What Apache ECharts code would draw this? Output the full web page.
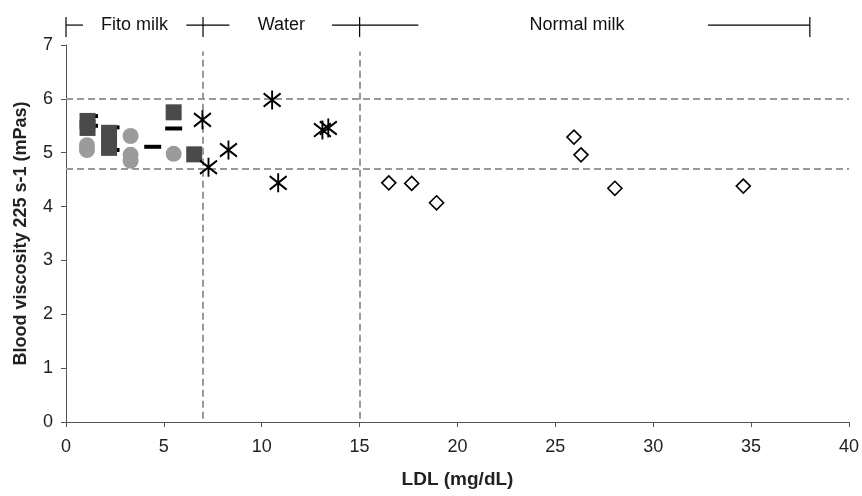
<!DOCTYPE html>
<html>
<head>
<meta charset="utf-8">
<script src="https://cdn.jsdelivr.net/npm/echarts@6/dist/echarts.min.js"></script>
<style>
html,body{margin:0;padding:0;background:#fff;}
#main{width:862px;height:496px;}
</style>
</head>
<body>
<div id="main"></div>
<script>
// Fito milk - dark squares
var squareX = [1.1, 1.1, 2.2, 2.2, 5.5, 6.55];
var squareY = [5.59, 5.46, 5.37, 5.09, 5.75, 4.97];
// Fito milk - grey circles
var circleX = [1.07, 1.07, 3.3, 3.3, 3.3, 5.5];
var circleY = [5.14, 5.05, 5.31, 4.96, 4.85, 4.98];
// Fito milk - dashes
var dashX = [1.2, 1.2, 2.3, 2.3, 4.43, 5.5];
var dashY = [5.68, 5.5, 5.47, 5.05, 5.11, 5.45];
// Water - asterisks
var starX = [6.97, 8.3, 7.28, 10.84, 10.53, 13.1, 13.4];
var starY = [5.61, 5.05, 4.73, 4.44, 5.98, 5.42, 5.46];
// Normal milk - open diamonds
var diamondX = [16.49, 17.66, 18.93, 25.95, 26.31, 28.04, 34.6];
var diamondY = [4.44, 4.43, 4.07, 5.29, 4.96, 4.34, 4.38];

// limits
var xCuts = [7, 15];
var yCuts = [6, 4.7];

// group headers on top
var groupNames = ['Fito milk', 'Water', 'Normal milk'];
var groupCenters = [3.5, 11.0, 26.1];
var bracketTicks = [0, 7, 15, 38];
var bracketSegs = [[0, 0.87], [6.15, 8.35], [13.59, 18.0], [32.8, 38]];

function pts(xs, ys) {
	var out = [];
	for (var i = 0; i < xs.length; i++) out.push([xs[i], ys[i]]);
	return out;
}

var font = 'Liberation Sans, Arial, sans-serif';
var dashStyle = { color: '#999', width: 2, type: [7, 4] };

var markData = [];
xCuts.forEach(function (v) {
	markData.push([{ coord: [v, 0.06] }, { coord: [v, 6.88] }]);
});
yCuts.forEach(function (v) {
	markData.push([{ coord: [0, v] }, { coord: [40, v] }]);
});

var myChart = echarts.init(document.getElementById('main'));
var option = {
	animation: false,
	grid: { left: 66, right: 10, top: 45, bottom: 74 },
	xAxis: {
		type: 'value', min: 0, max: 40, interval: 5,
		name: 'LDL (mg/dL)', nameLocation: 'middle', nameGap: 48,
		nameTextStyle: { fontFamily: font, fontSize: 19, fontWeight: 'bold', color: '#222' },
		axisLine: { lineStyle: { color: '#555', width: 1 } },
		axisTick: { show: true, length: 5, lineStyle: { color: '#555' } },
		axisLabel: { fontFamily: font, fontSize: 18, color: '#222', margin: 16 },
		splitLine: { show: false }
	},
	yAxis: {
		type: 'value', min: 0, max: 7, interval: 1,
		name: 'Blood viscosity 225 s-1 (mPas)', nameLocation: 'middle', nameGap: 36,
		nameTextStyle: { fontFamily: font, fontSize: 18, fontWeight: 'bold', color: '#222' },
		axisLine: { show: true, lineStyle: { color: '#555', width: 1 } },
		axisTick: { show: true, length: 5, lineStyle: { color: '#555' } },
		axisLabel: { fontFamily: font, fontSize: 18, color: '#222', margin: 13 },
		splitLine: { show: false }
	},
	series: [
		{
			name: 'limits', type: 'scatter', data: [], z: 1,
			markLine: {
				silent: true, symbol: 'none', label: { show: false },
				lineStyle: dashStyle, data: markData
			}
		},
		{
			name: 'dash', type: 'scatter', z: 2,
			symbol: 'path://M0,0H10V2H0Z', symbolSize: [17, 4],
			itemStyle: { color: '#000', opacity: 1 },
			data: pts(dashX, dashY)
		},
		{
			name: 'circle', type: 'scatter', z: 3,
			symbol: 'circle', symbolSize: 16,
			itemStyle: { color: '#9b9b9b', opacity: 1 },
			data: pts(circleX, circleY)
		},
		{
			name: 'square', type: 'scatter', z: 4,
			symbol: 'rect', symbolSize: 16,
			itemStyle: { color: '#4a4a4a', opacity: 1 },
			data: pts(squareX, squareY)
		},
		{
			name: 'water', type: 'scatter', z: 5,
			symbol: 'path://M0,-10L0,10M-8,-7L8,7M-8,7L8,-7', symbolSize: [17, 19],
			itemStyle: { color: 'none', borderColor: '#000', borderWidth: 2, opacity: 1 },
			data: pts(starX, starY)
		},
		{
			name: 'normal', type: 'scatter', z: 5,
			symbol: 'diamond', symbolSize: 14,
			itemStyle: { color: '#fff', borderColor: '#000', borderWidth: 1.6, opacity: 1 },
			data: pts(diamondX, diamondY)
		}
	]
};
myChart.setOption(option);

// header brackets above the plot
var yHead = myChart.convertToPixel({ gridIndex: 0 }, [0, 7.37])[1];
var px = function (v) { return myChart.convertToPixel({ gridIndex: 0 }, [v, 0])[0]; };
var els = [];
bracketSegs.forEach(function (s) {
	els.push({ type: 'line', shape: { x1: px(s[0]), y1: yHead, x2: px(s[1]), y2: yHead },
		style: { stroke: '#000', lineWidth: 1.2 } });
});
bracketTicks.forEach(function (v) {
	els.push({ type: 'line', shape: { x1: px(v), y1: yHead - 8, x2: px(v), y2: yHead + 12 },
		style: { stroke: '#000', lineWidth: 1.2 } });
});
groupNames.forEach(function (n, i) {
	els.push({ type: 'text', x: px(groupCenters[i]), y: yHead,
		style: { text: n, fontFamily: font, fontSize: 18, fill: '#111', align: 'center', verticalAlign: 'middle' } });
});
myChart.setOption({ graphic: els });
</script>
</body>
</html>
